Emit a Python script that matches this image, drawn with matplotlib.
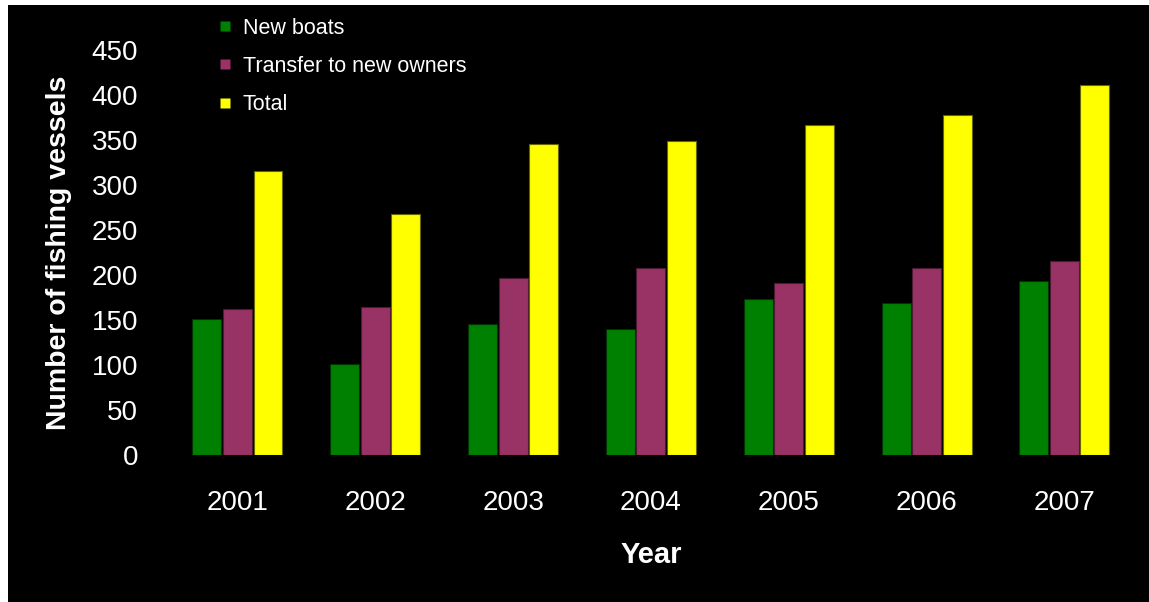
import numpy as np
import matplotlib
matplotlib.use("Agg")
import matplotlib.pyplot as plt
from matplotlib.patches import Rectangle
from matplotlib.lines import Line2D

plt.rcParams['font.family'] = ['Liberation Sans', 'DejaVu Sans']

years = ['2001', '2002', '2003', '2004', '2005', '2006', '2007']
new_boats = [151, 101, 145, 140, 173, 169, 193]
transfers = [162, 164, 197, 208, 191, 208, 215]
total = [316, 268, 345, 349, 367, 378, 411]

series = ['New boats', 'Transfer to new owners', 'Total']
colors = ['#008000', '#993366', '#ffff00']
edges = ['#003300', '#4d1a33', '#666600']

fig = plt.figure(figsize=(11.49, 6.02), dpi=100, facecolor='white')
# black slide background (white margin only at left and top)
fig.patches.append(Rectangle((8 / 1149, 0), 1, 597 / 602, transform=fig.transFigure,
                             facecolor='black', edgecolor='none', zorder=-10))

ax = fig.add_axes([0.1467, 0.2442, 0.8397, 0.6728])
ax.set_facecolor('black')

x = np.arange(len(years))
step = 0.2213
width = 0.21
for i, vals in enumerate([new_boats, transfers, total]):
    ax.bar(x + (i - 1) * step, vals, width, color=colors[i], edgecolor=edges[i],
           linewidth=0.8, label=series[i])

ax.set_xlim(-0.5, len(years) - 0.5)
ax.set_ylim(0, 450)
ax.set_yticks(np.arange(0, 451, 50))
ax.set_xticks(x)
ax.set_xticklabels(years)
for s in ax.spines.values():
    s.set_visible(False)
ax.tick_params(axis='y', length=0, pad=22, labelsize=20, labelcolor='white')
ax.tick_params(axis='x', length=0, pad=25, labelsize=20, labelcolor='white')

ax.set_ylabel('Number of fishing vessels', fontsize=20.5, fontweight='bold',
              color='white', labelpad=14)
ax.set_xlabel('Year', fontsize=21, fontweight='bold', color='white', labelpad=18)

handles = [Line2D([], [], marker='s', linestyle='none', markersize=7.5,
                  markerfacecolor=c, markeredgecolor='none') for c in colors]
leg = fig.legend(handles, series, loc='upper left', bbox_to_anchor=(0.183, 0.985),
                 frameon=False, fontsize=15.5, labelspacing=0.8,
                 handlelength=0.6, handletextpad=0.5, borderaxespad=0)
for t in leg.get_texts():
    t.set_color('white')

fig.savefig('out.png', dpi=100, facecolor=fig.get_facecolor())
